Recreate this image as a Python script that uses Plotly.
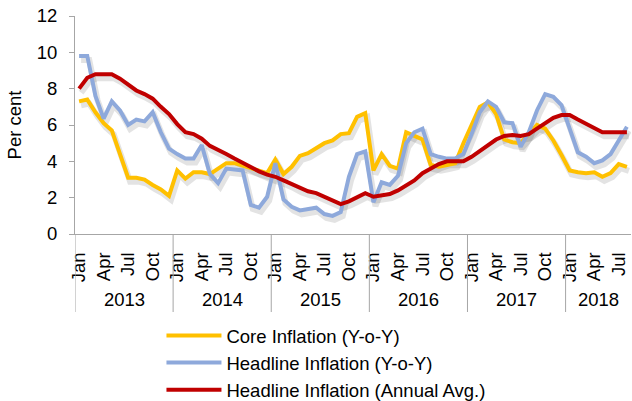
import plotly.graph_objects as go

# monthly series, Jan 2013 - Aug 2018
months = ["Jan", "Feb", "Mar", "Apr", "May", "Jun", "Jul", "Aug", "Sep", "Oct", "Nov", "Dec"]
years = [2013, 2014, 2015, 2016, 2017, 2018]
n_months_last = 8

core_yoy = [
    7.3, 7.4, 6.7, 6.1, 5.7, 4.4, 3.1, 3.1, 3.0, 2.7, 2.45, 2.1,
    3.5, 3.05, 3.4, 3.4, 3.3, 3.6, 3.9, 3.9, 3.75, 3.6, 3.5, 3.35,
    4.1, 3.3, 3.7, 4.3, 4.45, 4.7, 5.0, 5.15, 5.5, 5.55, 6.45, 6.65,
    3.5, 4.4, 3.75, 3.6, 5.6, 5.4, 5.2, 3.8, 3.7, 3.8, 3.9, 5.0,
    6.0, 7.0, 7.25, 6.6, 5.2, 5.05, 5.0, 5.5, 6.0, 5.8, 5.15, 4.35,
    3.5, 3.4, 3.35, 3.4, 3.15, 3.35, 3.85, 3.7,
]
headline_yoy = [
    9.8, 9.8, 7.6, 6.35, 7.3, 6.8, 6.0, 6.3, 6.2, 6.7, 5.6, 4.7,
    4.4, 4.15, 4.15, 4.9, 3.3, 2.8, 3.6, 3.55, 3.5, 1.6, 1.45, 2.05,
    3.9, 1.9, 1.5, 1.3, 1.4, 1.45, 1.1, 1.0, 1.2, 3.15, 4.4, 4.55,
    1.75, 2.85, 2.7, 3.2, 5.0, 5.6, 5.8, 4.4, 4.25, 4.15, 4.15, 4.4,
    5.5, 6.7, 7.3, 7.0, 6.15, 6.1, 4.8, 5.6, 6.8, 7.7, 7.55, 7.1,
    5.8, 4.5, 4.25, 3.9, 4.05, 4.4, 5.15, 5.9,
]
headline_avg = [
    8.0, 8.6, 8.8, 8.8, 8.8, 8.55, 8.2, 7.9, 7.7, 7.45, 7.0, 6.6,
    6.05, 5.6, 5.5, 5.25, 4.85, 4.65, 4.4, 4.15, 3.9, 3.7, 3.45, 3.27,
    3.15, 2.95, 2.75, 2.5, 2.35, 2.25, 2.05, 1.85, 1.65, 1.8, 2.05, 2.25,
    2.05, 2.1, 2.2, 2.4, 2.65, 2.95, 3.35, 3.6, 3.85, 4.0, 4.0, 4.0,
    4.25, 4.55, 4.9, 5.2, 5.4, 5.45, 5.4, 5.5, 5.8, 6.1, 6.4, 6.55,
    6.55, 6.3, 6.05, 5.8, 5.6, 5.6, 5.6, 5.6,
]

series = [
    ("Core Inflation (Y-o-Y)", core_yoy, "#FFC000"),
    ("Headline Inflation (Y-o-Y)", headline_yoy, "#8EA9DB"),
    ("Headline Inflation (Annual Avg.)", headline_avg, "#C00000"),
]

# month index + year of each point
month_year = []
for y in years:
    count = n_months_last if y == years[-1] else 12
    for m in months[:count]:
        month_year.append((m, y))
x_idx = list(range(len(month_year)))

W, H = 632, 401
margin = dict(l=75, r=1, t=16, b=167)
plot_w = W - margin["l"] - margin["r"]
plot_h = H - margin["t"] - margin["b"]
x_range = [-0.5, len(x_idx) - 0.5]
y_range = [0, 12]

# shadow offset in pixels (drawn on a shifted hidden axis pair)
dx_px, dy_px = 2, 4
px_x = (x_range[1] - x_range[0]) / plot_w
px_y = (y_range[1] - y_range[0]) / plot_h

FONT = "Liberation Sans, Arial, sans-serif"
FS = 18.5
fig = go.Figure()

for name, vals, col in series:
    fig.add_trace(go.Scatter(
        x=x_idx, y=vals, mode="lines",
        line=dict(color="rgba(0,0,0,0.11)", width=6),
        showlegend=False, hoverinfo="skip",
        xaxis="x", yaxis="y",
    ))

for name, vals, col in series:
    fig.add_trace(go.Scatter(
        x=x_idx, y=vals, mode="lines", name=name,
        line=dict(color=col, width=4),
        xaxis="x2", yaxis="y2",
    ))

# year labels and separators
shapes = []
annotations = []
for y in years:
    idx = [i for i, (m, yy) in enumerate(month_year) if yy == y]
    annotations.append(dict(
        x=(idx[0] + idx[-1]) / 2, y=-65 / plot_h, xref="x2", yref="paper",
        text=str(y), showarrow=False, yanchor="middle",
        font=dict(size=FS, color="#000000", family=FONT),
    ))
    shapes.append(dict(
        type="line", xref="x2", yref="paper",
        x0=idx[0] - 0.5, x1=idx[0] - 0.5, y0=0, y1=-78 / plot_h,
        line=dict(color="#A6A6A6", width=1),
    ))

tick_vals = [i for i, (m, yy) in enumerate(month_year) if m in ("Jan", "Apr", "Jul", "Oct")]
tick_text = [month_year[i][0] for i in tick_vals]

fig.update_layout(
    width=W, height=H, margin=margin,
    paper_bgcolor="white", plot_bgcolor="white",
    font=dict(family=FONT, size=FS, color="#000000"),
    xaxis=dict(visible=False, automargin=False,
               range=[x_range[0] - dx_px * px_x, x_range[1] - dx_px * px_x]),
    yaxis=dict(visible=False, automargin=False,
               range=[y_range[0] + dy_px * px_y, y_range[1] + dy_px * px_y]),
    xaxis2=dict(
        overlaying="x", anchor="y2", range=x_range, automargin=False,
        tickmode="array", tickvals=tick_vals, ticktext=tick_text, tickangle=-90,
        ticks="", showline=True, linecolor="#A6A6A6", linewidth=1,
        showgrid=False, zeroline=False, tickfont=dict(size=FS),
        ticklabelstandoff=10,
    ),
    yaxis2=dict(
        overlaying="y", anchor="x2", range=y_range, automargin=False,
        tickmode="linear", tick0=0, dtick=2,
        ticks="outside", ticklen=5, tickcolor="#A6A6A6",
        showline=True, linecolor="#A6A6A6", linewidth=1,
        showgrid=False, zeroline=False, ticklabelstandoff=8,
        title=dict(text="Per cent", standoff=10, font=dict(size=FS)),
    ),
    shapes=shapes,
    annotations=annotations,
    showlegend=True,
    legend=dict(
        x=0.1555, xanchor="left",
        y=1 - 317 / H, yref="container", yanchor="top",
        bgcolor="rgba(0,0,0,0)", font=dict(size=FS),
        itemwidth=55, tracegroupgap=0,
    ),
)

# page body has a default margin; drop it so the figure fills the window
fig.write_html("out.html", config={"displayModeBar": False},
               post_script="document.body.style.margin='0px';")
